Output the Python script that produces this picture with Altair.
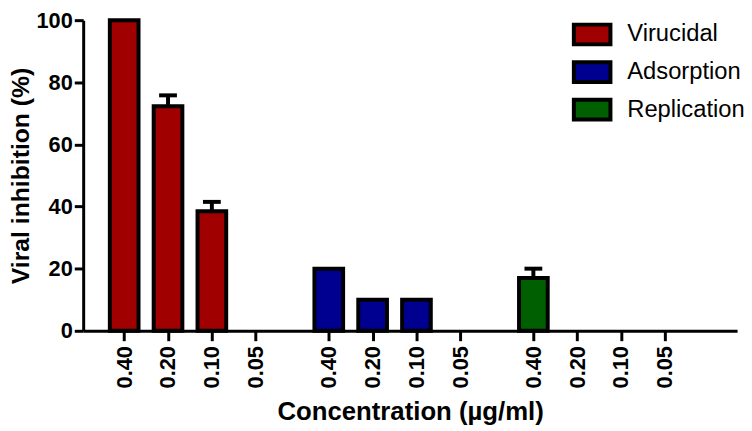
import altair as alt
import pandas as pd

series = ["Virucidal", "Adsorption", "Replication"]
concentrations = ["0.40", "0.20", "0.10", "0.05"]
virucidal = [100, 72.3, 38.5, 0]
adsorption = [20, 10, 10, 0]
replication = [17, 0, 0, 0]
virucidal_err = [0, 3.5, 3, 0]
adsorption_err = [0, 0, 0, 0]
replication_err = [3, 0, 0, 0]
colors = ["#a00000", "#000090", "#005f00"]

GROUP_SLOTS = 14
BAR_SLOTS = 3

rows = []
for g, (name, vals, errs) in enumerate(
    zip(series, [virucidal, adsorption, replication],
        [virucidal_err, adsorption_err, replication_err])):
    for i, (c, v, e) in enumerate(zip(concentrations, vals, errs)):
        rows.append(dict(series=name, conc=c, pos=g * GROUP_SLOTS + i * BAR_SLOTS,
                         value=v, err=e, top=v + e))
df = pd.DataFrame(rows)

tick_pos = list(df["pos"])
label_expr = ""
for p, c in zip(df["pos"], df["conc"]):
    label_expr += f"datum.value == {p} ? '{c}' : "
label_expr += "''"

FONT = "Liberation Sans"

x_enc = alt.X("pos:Q",
              scale=alt.Scale(domain=[-2.4667, 41.6], nice=False, zero=False),
              axis=alt.Axis(values=tick_pos, labelExpr=label_expr, labelAngle=270,
                            title="Concentration (µg/ml)", tickSize=10, labelPadding=5,
                            titlePadding=11, grid=False))
y_axis = alt.Axis(values=[0, 20, 40, 60, 80, 100], title="Viral inhibition  (%)",
                  tickSize=9, labelPadding=2, titlePadding=3, titleFontSize=25,
                  grid=False)

base = alt.Chart(df)

bars = base.transform_filter("datum.value > 0").mark_bar(
    size=29, stroke="black", strokeWidth=4, opacity=1).encode(
    x=x_enc,
    y=alt.Y("value:Q", scale=alt.Scale(domain=[0, 100], nice=False), axis=y_axis),
    color=alt.Color("series:N", scale=alt.Scale(domain=series, range=colors),
                    legend=alt.Legend(title=None)),
)

rule = base.transform_filter("datum.err > 0").mark_rule(
    strokeWidth=4, color="black").encode(
    x=alt.X("pos:Q"), y=alt.Y("value:Q"), y2="top:Q")

cap = base.transform_filter("datum.err > 0").mark_tick(
    orient="horizontal", size=18, thickness=4, color="black", opacity=1).encode(
    x=alt.X("pos:Q"), y=alt.Y("top:Q"))

chart = alt.layer(rule, bars, cap).properties(
    width=661, height=314,
    autosize=alt.AutoSizeParams(type="none"),
    padding={"left": 76, "top": 10, "right": 7, "bottom": 99},
).configure_view(stroke="transparent").configure_axis(
    domainColor="black", domainWidth=3, tickColor="black", tickWidth=3,
    labelFont=FONT, labelFontWeight="bold", labelFontSize=22, labelColor="black",
    titleFont=FONT, titleFontWeight="bold", titleFontSize=26, titleColor="black",
).configure_legend(
    orient="none", legendX=495, legendY=-5, padding=0, rowPadding=0,
    symbolType="M-1.057,-0.571L1.057,-0.571L1.057,0.571L-1.057,0.571Z", symbolSize=1225,
    symbolStrokeColor="black", symbolStrokeWidth=4, symbolOpacity=1,
    labelFont=FONT, labelFontSize=24, labelColor="black", labelOffset=16,
)

chart.save("out.html", embed_options={"renderer": "svg", "actions": False})
